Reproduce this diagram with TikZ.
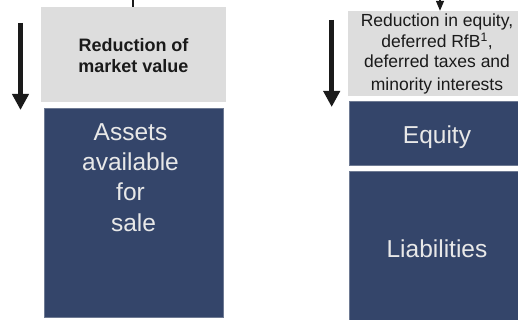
\documentclass[tikz,border=0pt]{standalone}
\usepackage{fontspec}
\setmainfont{Liberation Sans}
\usetikzlibrary{arrows.meta}

\definecolor{navy}{HTML}{34456A}
\definecolor{navyedge}{HTML}{6E7A93}
\definecolor{paleg}{HTML}{DDDDDD}
\definecolor{ink}{HTML}{1A1A1A}
\definecolor{lighttext}{HTML}{E8E8E8}

\tikzset{
  greybox/.style={fill=paleg, draw=none, inner sep=0pt},
  bluebox/.style={fill=navy, draw=navyedge, line width=0.7pt, inner sep=0pt},
  darktext/.style={text=ink, inner sep=0pt, align=center},
  boxtext/.style={text=lighttext, inner sep=0pt, align=center},
  bigarrow/.style={draw=ink, line width=5.5pt, -{Triangle[width=16pt,length=16pt]}},
  feedline/.style={draw=ink, line width=1.3pt},
  feedarrow/.style={draw=ink, line width=1.3pt, -{Triangle[width=8pt,length=10pt]}},
}

\begin{document}
\begin{tikzpicture}[x=1pt, y=-1pt]
\useasboundingbox (0,0) rectangle (518,320);
\clip (0,0) rectangle (518,320);

% left column: market value change over assets
\node[greybox, minimum width=185pt, minimum height=95pt] (lgrey) at (133.5,54.5) {};
\node[bluebox, minimum width=179pt, minimum height=209pt] (assets) at (133.5,212.5) {};

% multi-line texts are placed by the baseline of their last line
\node[darktext, anchor=base, font=\bfseries\fontsize{18}{21}\selectfont] (ltxt) at (133.5,73)
  {Reduction of\\market value};
\node[boxtext, anchor=base, font=\fontsize{24.5}{30.3}\selectfont] (atxt) at (130.5,231)
  {Assets\\available\\for\\\hspace*{6pt}sale};

% right column: equity and liabilities
\node[greybox, minimum width=180pt, minimum height=85pt] (rgrey) at (438,53.5) {};
\node[bluebox, minimum width=179pt, minimum height=64pt] (equity) at (438.5,133) {};
\node[bluebox, minimum width=179pt, minimum height=169pt] (liab) at (438.5,255.5) {};

\node[darktext, anchor=base, font=\fontsize{17.5}{20.5}\selectfont] (rtxt) at (437,91)
  {Reduction in equity,\\deferred RfB\textsuperscript{1},\\deferred taxes and\\[2.5pt]minority interests};
\node[boxtext, anchor=base, font=\fontsize{24.5}{30}\selectfont] (etxt) at (437,144) {Equity};
\node[boxtext, anchor=base, font=\fontsize{24.5}{30}\selectfont] (ltxt2) at (437,257) {Liabilities};

% connectors entering from above
\coordinate (ltop) at (133,-2);
\draw[feedline] (ltop) -- (ltop |- lgrey.north);
\coordinate (rtop) at (440,-4);
\draw[feedarrow] (rtop) -- (rtop |- rgrey.north);

% downward arrows
\coordinate (la1) at (20.5,23);
\coordinate (la2) at (20.5,110);
\draw[bigarrow] (la1) -- (la2);
\coordinate (ra1) at (331.7,20);
\coordinate (ra2) at (331.7,107);
\draw[bigarrow] (ra1) -- (ra2);
\end{tikzpicture}
\end{document}
